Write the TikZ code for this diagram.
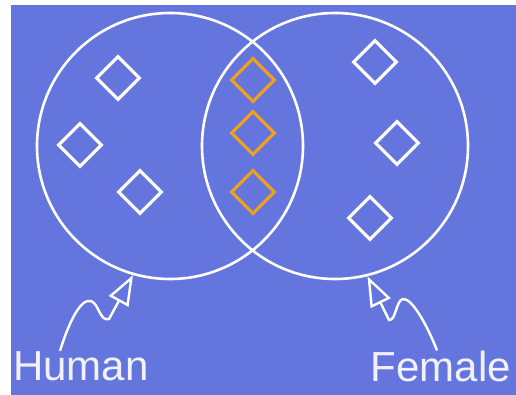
\documentclass[tikz,border=0pt]{standalone}
\usepackage{fontspec}
\setmainfont{Liberation Sans}
\usetikzlibrary{arrows.meta,shapes.geometric}
\definecolor{bgblue}{RGB}{100,118,222}
\definecolor{gold}{RGB}{240,160,30}

\begin{document}
\begin{tikzpicture}[x=1pt, y=-1pt,
  venn/.style={draw=white, circle, line width=2.6pt, minimum size=266pt, inner sep=0pt},
  gem/.style={draw=white, diamond, line width=3.2pt, minimum size=44pt, inner sep=0pt},
  shared/.style={gem, draw=gold},
  lbl/.style={text=white!95!blue, font=\fontsize{42}{42}\selectfont, anchor=base, inner sep=0pt},
  arr/.style={draw=white, line width=2.4pt, -{Triangle[open, length=30pt, width=22pt]}}]
  \useasboundingbox (0,0) rectangle (516,395);
  \fill[white] (0,0) rectangle (516,395);
  \fill[bgblue] (11,5) rectangle (516,395);
  % the two sets
  \node[venn] (human) at (170,146) {};
  \node[venn] (female) at (335,146) {};
  % members of Human only
  \node[gem] (h1) at (118,78) {};
  \node[gem] (h2) at (80,145) {};
  \node[gem] (h3) at (140,192) {};
  % members of Female only
  \node[gem] (f1) at (375,62) {};
  \node[gem] (f2) at (397,143) {};
  \node[gem] (f3) at (370,218) {};
  % members of both
  \node[shared] (b1) at (253,80) {};
  \node[shared] (b2) at (253,133) {};
  \node[shared] (b3) at (253,192) {};
  % labels
  \node[lbl] (hlab) at (81,380) {Human};
  \node[lbl] (flab) at (441,381) {Female};
  \draw[arr] ([xshift=-21pt]hlab.north) .. controls (68,325) and (80,298) .. (91,301)
    .. controls (99,304) and (100,322) .. (109,319) -- (human.-106);
  \draw[arr] ([xshift=-4pt]flab.north) .. controls (427,325) and (412,298) .. (403,299)
    .. controls (396,300) and (396,321) .. (389,320) -- (female.-76);
\end{tikzpicture}
\end{document}
